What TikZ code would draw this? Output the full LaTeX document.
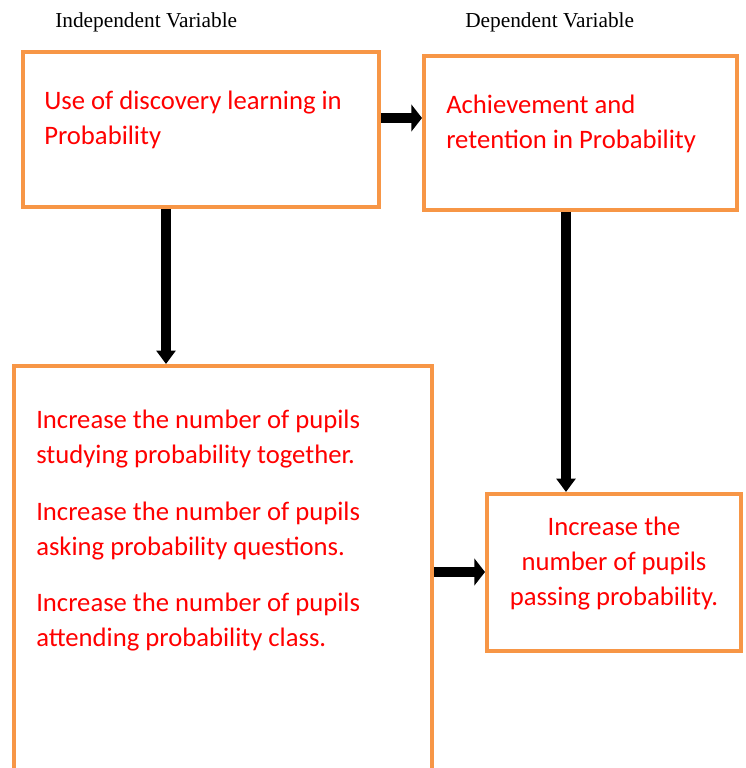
\documentclass[tikz,border=0pt]{standalone}
\usepackage{fontspec}
\setmainfont{Liberation Serif}
\newfontfamily\carlitofont{Carlito}
\usetikzlibrary{arrows.meta,fit}
\definecolor{boxorange}{HTML}{F79646}
\definecolor{txtred}{HTML}{FF0000}
\tikzset{
  frame/.style={draw=boxorange,line width=3pt,inner sep=0pt},
  redtxt/.style={text=txtred,font=\carlitofont\fontsize{20}{26}\selectfont,inner sep=0pt,anchor=base west,align=left},
  head/.style={font=\fontsize{16}{19}\selectfont,inner sep=0pt,anchor=base west},
  harrow/.style={line width=8pt,-{Triangle[width=20pt,length=8pt]}},
  varrow/.style={line width=7pt,-{Triangle[width=14pt,length=10pt]}},
}
\begin{document}
\begin{tikzpicture}[x=0.75pt,y=-0.75pt]
\useasboundingbox (0,0) rectangle (746,768);
\node[head] (h1) at (55,27) {Independent Variable};
\node[head] (h2) at (465,27) {Dependent Variable};
\node[frame,fit={(23,52) (379,207)}] (b1) {};
\node[frame,fit={(424,56) (737,210)}] (b2) {};
\node[frame,fit={(14,366) (432,790)}] (b3) {};
\node[frame,fit={(487,494) (741,651)}] (b4) {};
\node[redtxt] (t1) at (44,144) {Use of discovery learning in\\Probability};
\node[redtxt] (t2) at (446,148) {Achievement and\\retention in Probability};
\node[redtxt] (t3a) at (36,463) {Increase the number of pupils\\studying probability together.};
\node[redtxt] (t3b) at (36,555) {Increase the number of pupils\\asking probability questions.};
\node[redtxt] (t3c) at (36,646) {Increase the number of pupils\\attending probability class.};
\node[redtxt,anchor=base,align=center] (t4) at (614,605) {Increase the\\number of pupils\\passing probability.};
\coordinate (ya) at (0,118);
\coordinate (xb) at (166,0);
\coordinate (xc) at (566,0);
\coordinate (yd) at (0,572);
\draw[harrow] (b1.east |- ya) -- (b2.west |- ya);
\draw[varrow] (b1.south -| xb) -- (b3.north -| xb);
\draw[varrow] (b2.south -| xc) -- (b4.north -| xc);
\draw[harrow] (b3.east |- yd) -- (b4.west |- yd);
\end{tikzpicture}
\end{document}
